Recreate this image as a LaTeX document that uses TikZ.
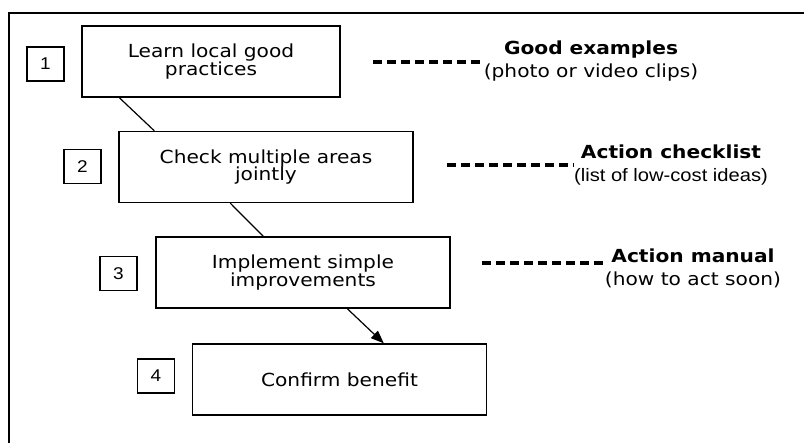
\documentclass[tikz,border=0pt]{standalone}
\usepackage{fontspec}
\setmainfont[FakeStretch=1.12]{DejaVu Sans}
\newfontfamily\arialish[FakeStretch=1.12]{Liberation Sans}
\usetikzlibrary{arrows.meta}
\begin{document}
\begin{tikzpicture}[x=1pt,y=-1pt,
  every node/.style={font=\fontsize{18}{17.5}\selectfont, inner sep=0pt},
  stepbox/.style={draw, line width=1.4pt, minimum width=294pt, minimum height=71pt, align=center},
  numbox/.style={draw, line width=1.1pt, minimum width=37pt, minimum height=34pt, font=\arialish\fontsize{17}{17}\selectfont},
  lbl/.style={align=center, font=\fontsize{18}{23}\selectfont},
  dashlink/.style={line width=3.2pt, dash pattern=on 9pt off 5pt},
  link/.style={line width=1.2pt}]
\useasboundingbox (0,0) rectangle (804,443);
\fill[white] (0,0) rectangle (804,443);
% frame (cropped)
\coordinate (fr0) at (9,443);
\coordinate (fr1) at (9,13);
\coordinate (fr2) at (804,13);
\draw[line width=1.6pt] (fr0) -- (fr1) -- (fr2);
% step boxes
\node[stepbox, minimum width=258pt] (b1) at (211,61.5) {Learn local good\\practices};
\node[stepbox] (b2) at (266,167) {Check multiple areas\\jointly};
\node[stepbox] (b3) at (303,272.5) {Implement simple\\improvements};
\node[stepbox] (b4) at (339.5,379.5) {Confirm benefit};
% number boxes
\node[numbox] (s1) at (45.5,64) {1};
\node[numbox] (s2) at (82.5,166.5) {2};
\node[numbox] (s3) at (118.5,273.5) {3};
\node[numbox] (s4) at (156,376) {4};
% connectors
\draw[link] ([xshift=38pt]b1.south west) -- ([xshift=36pt]b2.north west);
\draw[link] ([xshift=112pt]b2.south west) -- ([xshift=108pt]b3.north west);
\draw[link, -{Triangle[length=13pt,width=10pt]}] ([xshift=192pt]b3.south west) -- ([xshift=192pt]b4.north west);
% labels
\node[lbl] (l1) at (591,61.5) {\textbf{Good examples}\\(photo or video clips)};
\node[lbl] (l2) at (671,165) {\textbf{Action checklist}\\{\arialish(list of low-cost ideas)}};
\node[lbl] (l3) at (693,268.5) {\textbf{Action manual}\\(how to act soon)};
% dashed links
\coordinate (d1a) at (373,62);
\coordinate (d2a) at (447,165);
\coordinate (d3a) at (482,263);
\draw[dashlink] (d1a) -- (d1a -| l1.west);
\draw[dashlink] (d2a) -- (d2a -| l2.west);
\draw[dashlink] (d3a) -- (d3a -| l3.west);
\end{tikzpicture}
\end{document}
